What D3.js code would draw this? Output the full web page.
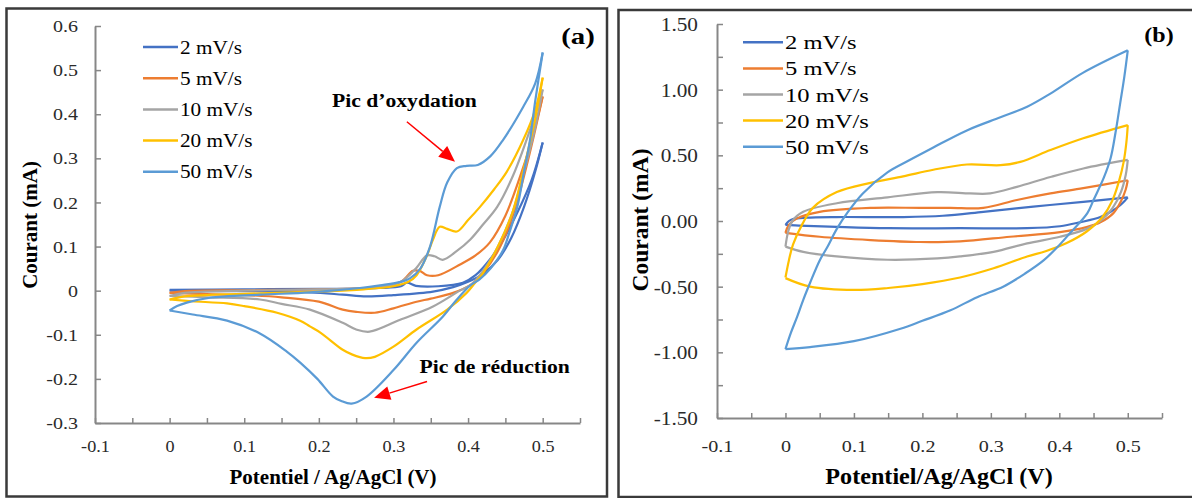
<!DOCTYPE html>
<html><head><meta charset="utf-8">
<script src="https://cdn.jsdelivr.net/npm/d3@7"></script>
<style>body{margin:0;background:#fff}svg{display:block}</style>
</head><body>
<svg id="chart" width="1192" height="498"></svg>
<script>
// ---------- DATA ----------
const seriesNames = ["2 mV/s","5 mV/s","10 mV/s","20 mV/s","50 mV/s"];
const seriesColors = ["#4472C4","#ED7D31","#A5A5A5","#FFC000","#5B9BD5"];

// Panel (a): [potential V, current mA], forward (0 -> 0.5) and reverse (0.5 -> 0)
const aFwd2  = [[0,0.002],[0.1,0.003],[0.2,0.004],[0.28,0.006],[0.31,0.01],[0.318,0.018],[0.33,0.011],[0.36,0.01],[0.393,0.018],[0.41,0.035],[0.429,0.07],[0.447,0.115],[0.466,0.177],[0.485,0.25],[0.5,0.336]];
const aRev2  = [[0.5,0.336],[0.49,0.27],[0.475,0.19],[0.458,0.12],[0.44,0.07],[0.42,0.038],[0.4,0.02],[0.38,0.008],[0.353,-0.002],[0.3,-0.01],[0.264,-0.013],[0.232,-0.009],[0.188,-0.004],[0.1,-0.001],[0,0.0]];
const aFwd5  = [[0,-0.005],[0.02,-0.001],[0.1,0.001],[0.2,0.003],[0.28,0.008],[0.31,0.02],[0.326,0.045],[0.335,0.045],[0.345,0.035],[0.36,0.035],[0.39,0.06],[0.41,0.08],[0.429,0.109],[0.45,0.17],[0.47,0.26],[0.485,0.34],[0.5,0.44]];
const aRev5  = [[0.5,0.44],[0.488,0.35],[0.475,0.26],[0.46,0.17],[0.44,0.09],[0.42,0.04],[0.405,0.015],[0.38,-0.005],[0.35,-0.018],[0.331,-0.025],[0.3,-0.04],[0.275,-0.05],[0.25,-0.048],[0.232,-0.043],[0.2,-0.025],[0.15,-0.015],[0.1,-0.01],[0.05,-0.008],[0,-0.005]];
const aFwd10 = [[0,-0.012],[0.02,-0.005],[0.1,0.0],[0.2,0.003],[0.28,0.008],[0.31,0.02],[0.33,0.05],[0.345,0.08],[0.355,0.078],[0.366,0.07],[0.385,0.09],[0.403,0.116],[0.42,0.15],[0.439,0.19],[0.46,0.26],[0.48,0.35],[0.5,0.456]];
const aRev10 = [[0.5,0.456],[0.49,0.37],[0.475,0.27],[0.46,0.18],[0.44,0.1],[0.42,0.045],[0.405,0.015],[0.389,0.0],[0.353,-0.036],[0.309,-0.066],[0.268,-0.093],[0.25,-0.088],[0.232,-0.073],[0.188,-0.043],[0.15,-0.03],[0.121,-0.02],[0.05,-0.015],[0,-0.012]];
const aFwd20 = [[0,-0.02],[0.02,-0.013],[0.05,-0.01],[0.1,-0.007],[0.2,-0.002],[0.26,0.003],[0.3,0.01],[0.32,0.02],[0.331,0.035],[0.345,0.08],[0.353,0.116],[0.362,0.145],[0.372,0.14],[0.385,0.134],[0.4,0.16],[0.416,0.19],[0.435,0.23],[0.452,0.27],[0.474,0.342],[0.49,0.41],[0.5,0.483]];
const aRev20 = [[0.5,0.483],[0.49,0.39],[0.475,0.28],[0.46,0.18],[0.44,0.1],[0.42,0.04],[0.408,0.015],[0.398,-0.005],[0.372,-0.043],[0.331,-0.088],[0.3,-0.127],[0.275,-0.15],[0.262,-0.153],[0.245,-0.145],[0.232,-0.134],[0.202,-0.095],[0.188,-0.081],[0.175,-0.068],[0.144,-0.05],[0.1,-0.035],[0.077,-0.029],[0.03,-0.024],[0,-0.02]];
const aFwd50 = [[0,-0.045],[0.01,-0.035],[0.023,-0.027],[0.054,-0.016],[0.121,-0.009],[0.188,-0.004],[0.255,0.006],[0.282,0.012],[0.31,0.02],[0.322,0.028],[0.336,0.05],[0.349,0.1],[0.362,0.19],[0.372,0.245],[0.385,0.278],[0.398,0.283],[0.413,0.285],[0.43,0.305],[0.447,0.342],[0.474,0.417],[0.49,0.47],[0.5,0.54]];
const aRev50 = [[0.5,0.54],[0.49,0.43],[0.483,0.342],[0.475,0.27],[0.466,0.19],[0.455,0.13],[0.447,0.092],[0.43,0.05],[0.415,0.025],[0.403,0.012],[0.385,-0.02],[0.366,-0.059],[0.331,-0.118],[0.3,-0.18],[0.264,-0.24],[0.244,-0.256],[0.23,-0.25],[0.219,-0.24],[0.198,-0.2],[0.175,-0.163],[0.157,-0.138],[0.121,-0.097],[0.077,-0.068],[0.031,-0.054],[0,-0.045]];

// Panel (b)
const bFwd2  = [[0,-0.03],[0.005,0.0],[0.011,0.015],[0.03,0.025],[0.075,0.03],[0.172,0.03],[0.23,0.04],[0.289,0.07],[0.362,0.11],[0.435,0.145],[0.5,0.18]];
const bRev2  = [[0.5,0.18],[0.495,0.15],[0.489,0.12],[0.475,0.07],[0.46,0.03],[0.43,-0.01],[0.401,-0.04],[0.353,-0.055],[0.255,-0.055],[0.15,-0.055],[0.075,-0.045],[0.02,-0.035],[0,-0.03]];
const bFwd5  = [[0,-0.09],[0.005,-0.03],[0.017,0.02],[0.05,0.07],[0.124,0.1],[0.197,0.1],[0.241,0.1],[0.289,0.1],[0.338,0.16],[0.387,0.21],[0.435,0.25],[0.5,0.31]];
const bRev5  = [[0.5,0.31],[0.497,0.24],[0.49,0.15],[0.479,0.06],[0.46,-0.01],[0.441,-0.045],[0.401,-0.085],[0.328,-0.12],[0.255,-0.155],[0.197,-0.16],[0.124,-0.145],[0.05,-0.12],[0,-0.09]];
const bFwd10 = [[0,-0.195],[0.004,-0.08],[0.01,0.0],[0.026,0.07],[0.075,0.135],[0.149,0.18],[0.222,0.22],[0.27,0.21],[0.299,0.21],[0.338,0.26],[0.387,0.335],[0.435,0.4],[0.5,0.465]];
const bRev10 = [[0.5,0.465],[0.497,0.35],[0.49,0.22],[0.478,0.1],[0.46,0.0],[0.44,-0.06],[0.401,-0.12],[0.353,-0.17],[0.304,-0.235],[0.255,-0.27],[0.222,-0.285],[0.149,-0.295],[0.075,-0.27],[0.026,-0.235],[0,-0.195]];
const bFwd20 = [[0,-0.43],[0.005,-0.3],[0.011,-0.18],[0.025,-0.02],[0.04,0.1],[0.075,0.22],[0.124,0.29],[0.172,0.34],[0.216,0.39],[0.265,0.43],[0.314,0.425],[0.343,0.45],[0.387,0.54],[0.435,0.63],[0.5,0.73]];
const bRev20 = [[0.5,0.73],[0.498,0.6],[0.494,0.45],[0.487,0.3],[0.477,0.15],[0.463,0.03],[0.44,-0.08],[0.41,-0.17],[0.38,-0.23],[0.353,-0.27],[0.304,-0.36],[0.255,-0.43],[0.2,-0.48],[0.15,-0.51],[0.1,-0.525],[0.036,-0.5],[0,-0.435]];
const bFwd50 = [[0,-0.975],[0.008,-0.85],[0.017,-0.73],[0.026,-0.6],[0.036,-0.47],[0.05,-0.3],[0.061,-0.2],[0.075,-0.06],[0.09,0.06],[0.113,0.21],[0.149,0.37],[0.18,0.46],[0.216,0.56],[0.265,0.69],[0.314,0.79],[0.353,0.87],[0.387,0.97],[0.435,1.13],[0.5,1.3]];
const bRev50 = [[0.5,1.3],[0.495,1.1],[0.489,0.9],[0.482,0.67],[0.475,0.48],[0.465,0.33],[0.45,0.16],[0.441,0.06],[0.416,-0.09],[0.397,-0.2],[0.377,-0.3],[0.35,-0.4],[0.318,-0.5],[0.28,-0.58],[0.241,-0.68],[0.2,-0.76],[0.168,-0.82],[0.1,-0.915],[0.036,-0.96],[0,-0.975]];

const aSeries = [[aFwd2,aRev2],[aFwd5,aRev5],[aFwd10,aRev10],[aFwd20,aRev20],[aFwd50,aRev50]];
const bSeries = [[bFwd2,bRev2],[bFwd5,bRev5],[bFwd10,bRev10],[bFwd20,bRev20],[bFwd50,bRev50]];

// Ticks
const xTicks = [-0.1,0,0.1,0.2,0.3,0.4,0.5];
const xTickLabels = ["-0.1","0","0.1","0.2","0.3","0.4","0.5"];
const xMinorTicks = [-0.05,0.05,0.15,0.25,0.35,0.45,0.55];
const aYTicks = [0.6,0.5,0.4,0.3,0.2,0.1,0,-0.1,-0.2,-0.3];
const aYTickLabels = ["0.6","0.5","0.4","0.3","0.2","0.1","0","-0.1","-0.2","-0.3"];
const bYTicks = [1.5,1.0,0.5,0,-0.5,-1.0,-1.5];
const bYTickLabels = ["1.50","1.00","0.50","0.00","-0.50","-1.00","-1.50"];
const bYMinorTicks = [1.25,0.75,0.25,-0.25,-0.75,-1.25];

// ---------- DRAW ----------
const FONT = "'Liberation Serif','Times New Roman',serif";
const svg = d3.select("#chart");
const AXC = "#878787";

// frames
svg.append("rect").attr("x",6.5).attr("y",8.5).attr("width",600.5).attr("height",488)
  .attr("fill","none").attr("stroke","#3a3a3a").attr("stroke-width",2.5);
svg.append("rect").attr("x",618.5).attr("y",10).attr("width",620).attr("height",487)
  .attr("fill","none").attr("stroke","#3a3a3a").attr("stroke-width",2.5);

function txt(g, x, y, s, o) {
  const t = g.append("text")
    .attr("transform", `translate(${x},${y})` + (o.rot ? ` rotate(${o.rot})` : "") + ` scale(${o.sx||1},1)`)
    .attr("font-family", FONT).attr("font-size", o.size).attr("font-weight", o.weight||"normal")
    .attr("fill", o.fill||"#000").attr("text-anchor", o.anchor||"start").text(s);
  return t;
}

function panel(cfg) {
  const x = d3.scaleLinear([-0.1,0.55],[cfg.x0,cfg.x1]);
  const y = d3.scaleLinear(cfg.yDomain,[cfg.y1,cfg.y0]);
  const g = svg.append("g");

  // minor x ticks
  g.append("g").attr("transform",`translate(0,${cfg.y1})`)
    .call(d3.axisBottom(x).tickValues(xMinorTicks).tickSize(-5).tickSizeOuter(0).tickFormat(""))
    .call(s=>{s.select(".domain").remove(); s.selectAll("line").attr("stroke",AXC).attr("stroke-width",1.5);});
  if (cfg.yMinor) {
    g.append("g").attr("transform",`translate(${cfg.x0},0)`)
      .call(d3.axisLeft(y).tickValues(cfg.yMinor).tickSize(-6).tickSizeOuter(0).tickFormat(""))
      .call(s=>{s.select(".domain").remove(); s.selectAll("line").attr("stroke",AXC).attr("stroke-width",1.5);});
  }
  // x axis
  g.append("g").attr("transform",`translate(0,${cfg.y1})`)
    .call(d3.axisBottom(x).tickValues(xTicks).tickSize(-5).tickSizeOuter(0)
      .tickFormat(d=>xTickLabels[xTicks.indexOf(d)]))
    .call(s=>{
      s.select(".domain").attr("stroke",AXC).attr("stroke-width",2);
      s.selectAll("line").attr("stroke",AXC).attr("stroke-width",1.5);
      s.selectAll("text").attr("y",cfg.xLabOff).attr("dy",null)
        .attr("font-family",FONT).attr("font-size",cfg.xTickSize).attr("fill","#2a2a2a")
        .attr("transform",`scale(${cfg.xTickSx},1)`);
    });
  // y axis
  g.append("g").attr("transform",`translate(${cfg.x0},0)`)
    .call(d3.axisLeft(y).tickValues(cfg.yTicks).tickSize(-6).tickSizeOuter(0)
      .tickFormat(d=>cfg.yLabels[cfg.yTicks.indexOf(d)]))
    .call(s=>{
      s.select(".domain").attr("stroke",AXC).attr("stroke-width",2);
      s.selectAll("line").attr("stroke",AXC).attr("stroke-width",1.5);
      s.selectAll("text").attr("x",-cfg.yLabOff/cfg.yTickSx).attr("dy","0.35em")
        .attr("font-family",FONT).attr("font-size",cfg.yTickSize).attr("fill","#2a2a2a")
        .attr("transform",`scale(${cfg.yTickSx},1)`);
    });

  // curves
  const line = d3.line().x(d=>x(d[0])).y(d=>y(d[1])).curve(d3.curveCatmullRom.alpha(0.5));
  cfg.series.forEach((br,i)=>{
    br.forEach(b=>{
      g.append("path").attr("d",line(b)).attr("fill","none")
        .attr("stroke",seriesColors[i]).attr("stroke-width",2.2).attr("stroke-linejoin","round");
    });
  });

  // legend
  seriesNames.forEach((n,i)=>{
    const ly = cfg.legY0 + i*cfg.legDy;
    g.append("line").attr("x1",cfg.legX).attr("x2",cfg.legX+cfg.legLen).attr("y1",ly).attr("y2",ly)
      .attr("stroke",seriesColors[i]).attr("stroke-width",2.5);
    txt(g, cfg.legX+cfg.legLen+2, ly+cfg.legBase, n, {size:cfg.legSize, sx:cfg.legSx});
  });

  // axis titles
  txt(g, cfg.xtX, 484, cfg.xTitle, {size:cfg.titleSize, weight:"bold", anchor:"middle", sx:cfg.titleSx});
  txt(g, cfg.ytX, cfg.ytY, "Courant (mA)", {size:cfg.yTitleSize, weight:"bold", anchor:"middle", rot:-90});
  // panel tag
  txt(g, cfg.tagX, cfg.tagY, cfg.tag, {size:cfg.tagSize, weight:"bold", anchor:"middle", sx:1.2});
  return {x,y,g};
}

const A = panel({x0:95,x1:580,y0:26,y1:423,yDomain:[-0.3,0.6],series:aSeries,
  yTicks:aYTicks,yLabels:aYTickLabels,yMinor:null,
  xLabOff:29,xTickSize:17,xTickSx:1.07,yLabOff:17,yTickSize:16,yTickSx:1.25,
  legX:143,legLen:35,legY0:47,legDy:31.2,legBase:6.5,legSize:18,legSx:1.18,
  xTitle:"Potentiel / Ag/AgCl (V)",xtX:333,titleSize:21,titleSx:1.0,
  ytX:37,ytY:225,yTitleSize:21,tag:"(a)",tagX:578,tagY:44,tagSize:24});

const B = panel({x0:717,x1:1162,y0:24,y1:418,yDomain:[-1.5,1.5],series:bSeries,
  yTicks:bYTicks,yLabels:bYTickLabels,yMinor:bYMinorTicks,
  xLabOff:34,xTickSize:17.5,xTickSx:1.15,yLabOff:19,yTickSize:19,yTickSx:1.12,
  legX:743,legLen:40,legY0:42.3,legDy:26.1,legBase:7,legSize:19.5,legSx:1.26,
  xTitle:"Potentiel/Ag/AgCl (V)",xtX:939,titleSize:23,titleSx:1.05,
  ytX:648,ytY:220,yTitleSize:23.5,tag:"(b)",tagX:1159,tagY:42,tagSize:20});

// annotations (panel a)
const annotations = [
  {text:"Pic d’oxydation", tx:0.2176, ty:0.417, tail:[0.318,0.383], tip:[0.3825,0.2925]},
  {text:"Pic de réduction", tx:0.335, ty:-0.186, tail:[0.345,-0.206], tip:[0.274,-0.243]}
];
annotations.forEach(a=>{
  txt(A.g, A.x(a.tx), A.y(a.ty), a.text, {size:19, weight:"bold", sx:1.14});
  const x1=A.x(a.tail[0]), y1=A.y(a.tail[1]), x2=A.x(a.tip[0]), y2=A.y(a.tip[1]);
  const ang=Math.atan2(y2-y1,x2-x1), L=16, Wd=7;
  const bx=x2-L*Math.cos(ang), by=y2-L*Math.sin(ang);
  A.g.append("line").attr("x1",x1).attr("y1",y1).attr("x2",bx).attr("y2",by)
    .attr("stroke","#FF0000").attr("stroke-width",1.5);
  A.g.append("path").attr("d",`M${x2},${y2}L${bx+Wd*Math.sin(ang)},${by-Wd*Math.cos(ang)}L${bx-Wd*Math.sin(ang)},${by+Wd*Math.cos(ang)}Z`)
    .attr("fill","#FF0000");
});
</script>
</body></html>
